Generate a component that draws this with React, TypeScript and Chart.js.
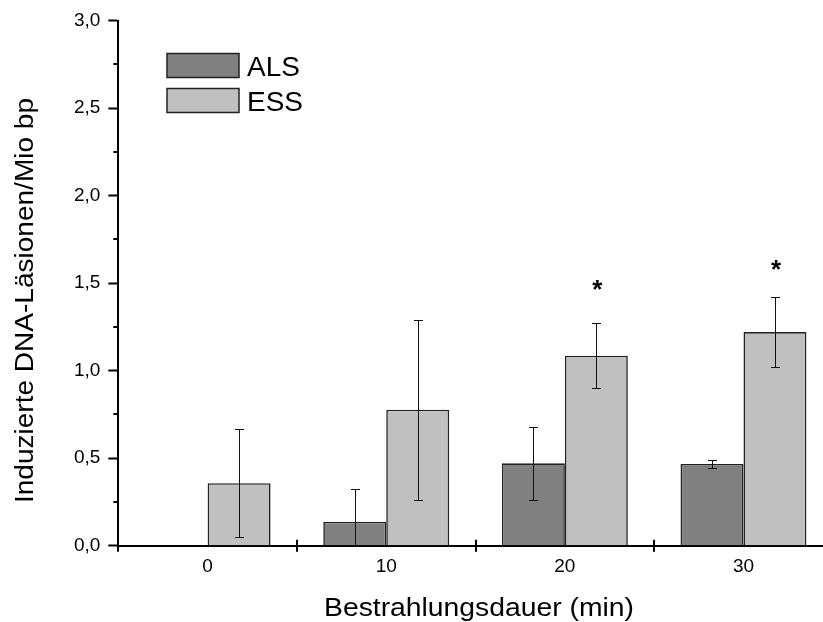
import React, { useEffect, useRef } from "react";
import { Chart, registerables } from "chart.js";

Chart.register(...registerables);

const categories = ["0", "10", "20", "30"];
const alsValues = [null, 0.137, 0.471, 0.467];
const alsErrors = [null, 0.185, 0.21, 0.025];
const essValues = [0.357, 0.777, 1.086, 1.221];
const essErrors = [0.31, 0.513, 0.185, 0.198];
const essStars = [null, null, 1.5, 1.614];
const yTicks = [0, 0.5, 1.0, 1.5, 2.0, 2.5, 3.0];
const yMinorTicks = [0.25, 0.75, 1.25, 1.75, 2.25, 2.75];

const FONT = "'Liberation Sans', Arial, Helvetica, sans-serif";
const ALS_COLOR = "#808080";
const ESS_COLOR = "#c0c0c0";
const EDGE = "#222222";

function drawFitted(ctx: CanvasRenderingContext2D, text: string, size: number, targetWidth: number) {
  ctx.font = `${size}px ${FONT}`;
  const w = ctx.measureText(text).width;
  const sx = targetWidth / w;
  ctx.scale(sx, 1);
  ctx.textAlign = "center";
  ctx.textBaseline = "alphabetic";
  ctx.fillText(text, 0, 0);
}

const overlay = {
  id: "overlay",
  afterDatasetsDraw(chart: any) {
    const ctx = chart.ctx as CanvasRenderingContext2D;
    const { left, right, top, bottom } = chart.chartArea;
    const ys = chart.scales.y;
    ctx.save();
    ctx.beginPath();
    ctx.rect(left, top, right - left, bottom - top);
    ctx.clip();
    ctx.strokeStyle = "#111";
    ctx.lineWidth = 1;
    const sets = [
      { vals: alsValues, errs: alsErrors },
      { vals: essValues, errs: essErrors },
    ];
    sets.forEach((s, di) => {
      const meta = chart.getDatasetMeta(di);
      meta.data.forEach((bar: any, j: number) => {
        const v = s.vals[j];
        const e = s.errs[j];
        if (v == null || e == null) return;
        const x = Math.round(bar.x) + 0.5;
        const y1 = Math.round(ys.getPixelForValue(v + e)) + 0.5;
        const y2 = Math.round(ys.getPixelForValue(v - e)) + 0.5;
        ctx.beginPath();
        ctx.moveTo(x, y1);
        ctx.lineTo(x, y2);
        ctx.moveTo(x - 4.5, y1);
        ctx.lineTo(x + 4.5, y1);
        ctx.moveTo(x - 4.5, y2);
        ctx.lineTo(x + 4.5, y2);
        ctx.stroke();
      });
    });
    ctx.restore();
  },
  afterDraw(chart: any) {
    const ctx = chart.ctx as CanvasRenderingContext2D;
    const { left, bottom } = chart.chartArea;
    const xs = chart.scales.x;
    const ys = chart.scales.y;
    ctx.save();
    ctx.strokeStyle = "#000";
    ctx.lineWidth = 2;
    yMinorTicks.forEach((v) => {
      const y = Math.round(ys.getPixelForValue(v));
      ctx.beginPath();
      ctx.moveTo(left - 5, y);
      ctx.lineTo(left, y);
      ctx.stroke();
    });
    for (let i = 0; i <= categories.length; i++) {
      const x = Math.round(xs.getPixelForValue(i - 0.5));
      ctx.beginPath();
      ctx.moveTo(x, bottom - 6);
      ctx.lineTo(x, bottom + 6);
      ctx.stroke();
    }
    ctx.fillStyle = "#000";
    ctx.font = `bold 26px ${FONT}`;
    ctx.textAlign = "center";
    ctx.textBaseline = "alphabetic";
    const essMeta = chart.getDatasetMeta(1);
    essStars.forEach((s, j) => {
      if (s == null) return;
      const bar: any = essMeta.data[j];
      ctx.fillText("*", bar.x + 1, ys.getPixelForValue(s) + 15);
    });
    const items = [
      { label: "ALS", color: ALS_COLOR, y: 53.5 },
      { label: "ESS", color: ESS_COLOR, y: 88.5 },
    ];
    items.forEach((it) => {
      ctx.fillStyle = it.color;
      ctx.fillRect(167, it.y, 72, 24);
      ctx.strokeStyle = EDGE;
      ctx.lineWidth = 1.5;
      ctx.strokeRect(167, it.y, 72, 24);
      ctx.fillStyle = "#000";
      ctx.font = `28px ${FONT}`;
      ctx.textAlign = "left";
      ctx.textBaseline = "alphabetic";
      ctx.fillText(it.label, 247, it.y + 22.5);
    });
    ctx.fillStyle = "#000";
    ctx.save();
    ctx.translate(479, 616);
    drawFitted(ctx, "Bestrahlungsdauer (min)", 25, 310);
    ctx.restore();
    ctx.save();
    ctx.translate(33, 300.5);
    ctx.rotate(-Math.PI / 2);
    drawFitted(ctx, "Induzierte DNA-Läsionen/Mio bp", 26, 405);
    ctx.restore();
    ctx.restore();
  },
};

export default function App() {
  const ref = useRef<HTMLCanvasElement>(null);
  useEffect(() => {
    if (!ref.current) return;
    const chart = new Chart(ref.current, {
      type: "bar",
      data: {
        labels: categories,
        datasets: [
          {
            label: "ALS",
            data: alsValues as any,
            backgroundColor: ALS_COLOR,
            borderColor: EDGE,
            borderWidth: 1.6,
            categoryPercentage: 0.705,
            barPercentage: 1,
          },
          {
            label: "ESS",
            data: essValues,
            backgroundColor: ESS_COLOR,
            borderColor: EDGE,
            borderWidth: 1.6,
            categoryPercentage: 0.705,
            barPercentage: 1,
          },
        ],
      },
      options: {
        responsive: false,
        animation: false,
        devicePixelRatio: 1,
        layout: { padding: { left: 0, right: 12.2, top: 20.7, bottom: 0 } },
        plugins: { legend: { display: false }, tooltip: { enabled: false } },
        scales: {
          x: {
            z: 1,
            grid: { display: false, drawTicks: false },
            border: { display: true, color: "#000", width: 2 },
            ticks: { color: "#000", font: { family: "Liberation Sans", size: 19 }, padding: 10 },
            afterFit: (s: any) => {
              s.height = 76.3;
            },
          },
          y: {
            z: 1,
            min: 0,
            max: 3,
            afterBuildTicks: (s: any) => {
              s.ticks = yTicks.map((v) => ({ value: v }));
            },
            grid: { drawOnChartArea: false, tickLength: 10, tickWidth: 2, tickColor: "#000" },
            border: { display: true, color: "#000", width: 2 },
            ticks: {
              color: "#000",
              font: { family: "Liberation Sans", size: 19 },
              padding: 8,
              callback: (v: any) => Number(v).toFixed(1).replace(".", ","),
            },
            afterFit: (s: any) => {
              s.width = 118.3;
            },
          },
        },
      },
      plugins: [overlay],
    });
    return () => chart.destroy();
  }, []);
  return (
    <div
      style={{
        position: "fixed",
        left: 0,
        top: 0,
        width: 823,
        height: 622,
        overflow: "hidden",
        background: "#fff",
      }}
    >
      <canvas ref={ref} width={845} height={622} style={{ width: 845, height: 622, display: "block" }} />
    </div>
  );
}
